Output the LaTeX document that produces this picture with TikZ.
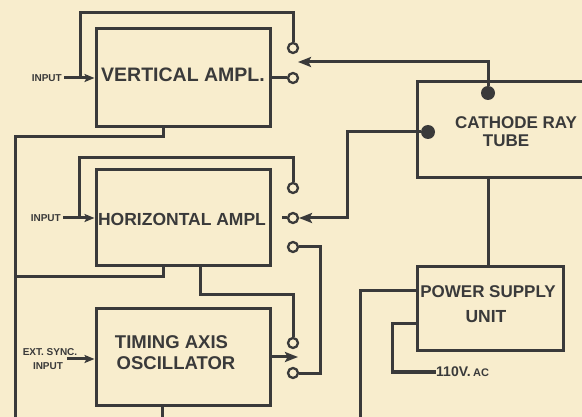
\documentclass[tikz,border=0pt]{standalone}
\usepackage{fontspec}
\setmainfont{Liberation Sans}
\usetikzlibrary{arrows.meta}
\definecolor{paper}{HTML}{F8EDCD}
\definecolor{ink}{HTML}{3A3A3A}
\begin{document}
\begin{tikzpicture}[x=1pt,y=-1pt,
  wire/.style={draw=ink,line width=3pt},
  arr/.style={wire,-{Stealth[length=13pt,width=10pt,inset=2.5pt]}},
  sarr/.style={wire,-{Stealth[length=10pt,width=8pt,inset=2pt]}},
  block/.style={draw=ink,line width=3pt,rectangle,inner sep=0pt},
  contact/.style={circle,draw=ink,fill=paper,line width=2.3pt,minimum size=10pt,inner sep=0pt},
  term/.style={circle,fill=ink,minimum size=14pt,inner sep=0pt},
  txt/.style={text=ink,inner sep=0pt},
  small/.style={txt,font=\bfseries\fontsize{10}{11}\selectfont}]
\fill[paper] (0,0) rectangle (582,417);
\useasboundingbox (0,0) rectangle (582,417);
\clip (0,0) rectangle (582,417);
% blocks
\node[block,minimum width=174pt,minimum height=98pt] (va) at (183,78) {};
\node[block,minimum width=174pt,minimum height=96pt] (ha) at (183,218) {};
\node[block,minimum width=174pt,minimum height=96pt] (to) at (183,357) {};
\node[block,minimum width=183pt,minimum height=96pt] (crt) at (508.5,130) {};
\node[block,minimum width=146pt,minimum height=84pt] (ps) at (490,309) {};
% block texts
\node[txt,font=\bfseries\fontsize{19.5}{22}\selectfont] (vat) at (183,74.5) {VERTICAL AMPL.};
\node[txt,font=\bfseries\fontsize{17.5}{20}\selectfont] (hat) at (182,219.5) {HORIZONTAL AMPL};
\node[txt,font=\bfseries\fontsize{18.5}{21}\selectfont] (tot1) at (171.5,342) {TIMING AXIS};
\node[txt,font=\bfseries\fontsize{18.5}{21}\selectfont] (tot2) at (176,363) {OSCILLATOR};
\node[txt,font=\bfseries\fontsize{17}{19}\selectfont] (crt1) at (516,122.5) {CATHODE RAY};
\node[txt,font=\bfseries\fontsize{17}{19}\selectfont] (crt2) at (506,141) {TUBE};
\node[txt,font=\bfseries\fontsize{17}{19}\selectfont] (ps1) at (488,292) {POWER SUPPLY};
\node[txt,font=\bfseries\fontsize{17.5}{20}\selectfont] (ps2) at (486,317) {UNIT};
% small labels
\node[small,anchor=east] (vin) at (62,78) {INPUT};
\node[small,anchor=east] (hin) at (61,218) {INPUT};
\node[small] (ext1) at (50,352) {EXT. SYNC.};
\node[small] (ext2) at (48,366) {INPUT};
\node[txt,anchor=west,font=\bfseries\fontsize{14}{16}\selectfont] (ac) at (436,372) {110V.\,{\fontsize{11}{12}\selectfont AC}};
% contacts and terminals
\node[contact] (c1) at (293,48) {};
\node[contact] (c2) at (293,78) {};
\node[contact] (h1) at (293,188) {};
\node[contact] (h2) at (293,218) {};
\node[contact] (h3) at (293,247) {};
\node[contact] (t1) at (293,343) {};
\node[contact] (t2) at (293,373) {};
\node[term] (crtA) at (488,93) {};
\node[term] (crtB) at (428,132) {};
% helper coordinates
\coordinate (vj) at (80,78);
\coordinate (vtop) at (80,13);
\coordinate (swv) at (298,62);
\coordinate (vb) at (163,137);
\coordinate (lt) at (15,137);
\coordinate (lm) at (15,277);
\coordinate (lbot) at (15,420);
\coordinate (hj) at (79,218);
\coordinate (htop) at (79,158);
\coordinate (hbend) at (347,132);
\coordinate (hsw) at (299,218);
\coordinate (stub) at (282,218);
\coordinate (rb) at (320,247);
\coordinate (hb) at (163,277);
\coordinate (hb2) at (200,295);
\coordinate (tsw) at (298,357);
\coordinate (exs) at (67,359);
\coordinate (tb) at (162,420);
\coordinate (pl) at (360,291);
\coordinate (pbot) at (360,420);
\coordinate (pa) at (392,324);
% wires
\draw[sarr,shorten <=2pt] (vin.east) -- (va.west);
\draw[wire] (vj) -- (vtop) -| (c1.north);
\draw[wire] (va.east) -- (c2.west);
\draw[arr] (crtA.north) |- (swv);
\draw[wire] (va.south -| vb) |- (lt) -- (lbot);
\draw[wire] (hj) -- (htop) -| (h1.north);
\draw[sarr,shorten <=2pt] (hin.east) -- (ha.west);
\draw[arr] (crtB.west) -- (hbend) |- (hsw);
\draw[wire] (stub) -- (h2.west);
\draw[wire] (h3.east) -- (rb) |- (t2.east);
\draw[wire] (ha.south -| hb) |- (lm);
\draw[wire] (ha.south -| hb2) -- (hb2) -| (t1.north);
\draw[arr] (to.east) -- (tsw);
\draw[sarr] (exs) -- (to.west |- exs);
\draw[wire] (to.south -| tb) -- (tb);
\draw[wire] (crt.south -| crtA) -- (ps.north -| crtA);
\draw[wire] (ps.west |- pl) -- (pl) -- (pbot);
\draw[wire] (ps.west |- pa) -- (pa) |- (ac.west);
\end{tikzpicture}
\end{document}
